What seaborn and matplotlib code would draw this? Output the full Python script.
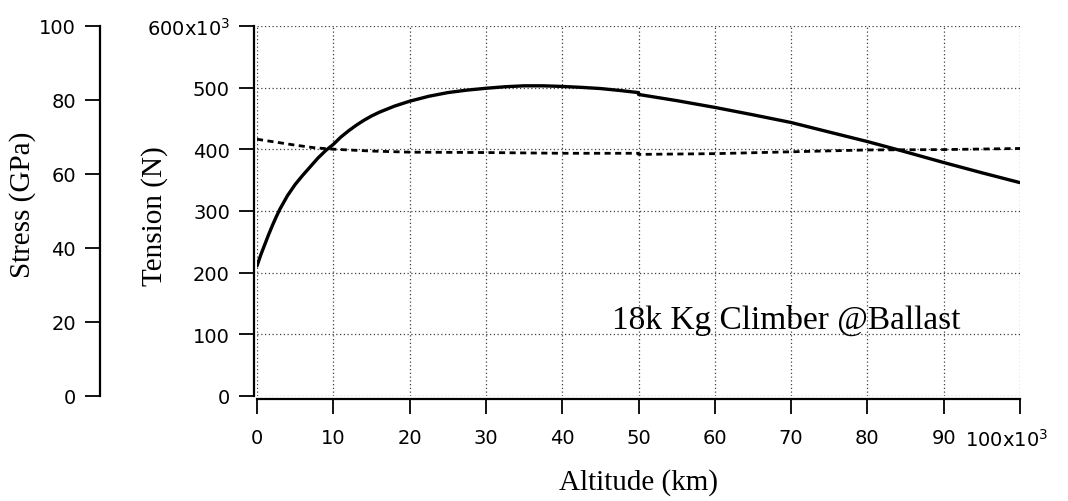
import numpy as np
import pandas as pd
import matplotlib
matplotlib.use("Agg")
import matplotlib.pyplot as plt
import matplotlib.transforms as mtransforms
import seaborn as sns

# ---------------------------------------------------------------------
# data (altitude in km, tension in kN, stress in GPa)
# ---------------------------------------------------------------------
alt_tension = [0, 0.5, 1, 1.5, 2, 2.5, 3, 3.5, 4, 4.5, 5, 6, 7, 8, 9, 10,
               11, 12, 13, 14, 15, 16, 18, 20, 22.5, 25, 27.5, 30, 32.5,
               35, 37.5, 40, 42.5, 45, 47.5, 50, 50, 55, 60, 65, 70, 75,
               80, 84.5, 90, 95, 100]
tension_kN = [211, 229, 245, 261, 276, 290, 303, 314, 325, 334, 343, 358,
              372, 386, 398, 408, 420, 430, 439, 447, 454, 460, 470, 478,
              486, 492, 496, 499, 501.5, 503, 503, 502, 500.5, 498.6,
              495.5, 492, 489, 479, 468, 456, 443.5, 428, 412.6, 397.6,
              378.6, 362, 346]

alt_stress = [0, 2.5, 5, 7.5, 10, 15, 20, 30, 40, 50, 50, 60, 70, 80, 90, 100]
stress_GPa = [69.4, 68.6, 67.8, 67.1, 66.7, 66.2, 65.9, 65.8, 65.6, 65.6,
              65.3, 65.5, 66.0, 66.5, 66.6, 66.9]

x_ticks = [0, 10, 20, 30, 40, 50, 60, 70, 80, 90, 100]
x_ticklabels = ['0', '10', '20', '30', '40', '50', '60', '70', '80', '90',
                '100x10$^3$']
t_ticks = [0, 100, 200, 300, 400, 500, 600]
t_ticklabels = ['0', '100', '200', '300', '400', '500', '600x10$^3$']
s_ticks = [0, 20, 40, 60, 80, 100]

df_t = pd.DataFrame({'alt': alt_tension, 'tension': tension_kN})
df_s = pd.DataFrame({'alt': alt_stress, 'stress': stress_GPa})

sns.set_theme(style="ticks")
plt.rcParams['font.family'] = ['DejaVu Sans']
serif = 'Liberation Serif'

W, H = 1068, 502
PX = 0.72  # points per pixel at dpi 100
fig = plt.figure(figsize=(W / 100, H / 100), dpi=100)
ax = fig.add_axes([257 / W, 1 - 397 / H, (1020 - 257) / W, (397 - 27) / H])
ax.patch.set_alpha(0)

# stress axis on the far left
ax2 = ax.twinx()
ax2.set_zorder(ax.get_zorder() + 1)
ax2.patch.set_alpha(0)

sns.lineplot(data=df_t, x='alt', y='tension', ax=ax, color='black',
             linewidth=2.4, estimator=None, sort=False)
sns.lineplot(data=df_s, x='alt', y='stress', ax=ax2, color='black',
             linewidth=2.0, estimator=None, sort=False)
ax2.lines[0].set_dashes([2.2, 1.6])

ax.set_xlim(0, 100)
ax.set_ylim(0, 600)
ax2.set_ylim(0, 100)

# spines first (set_position resets the ticks)
for s in ['top', 'right']:
    ax.spines[s].set_visible(False)
for s in ['top', 'right', 'bottom']:
    ax2.spines[s].set_visible(False)
ax.spines['left'].set_position(('outward', 3 * PX))
ax.spines['bottom'].set_position(('outward', 3 * PX))
ax2.spines['left'].set_position(('outward', 157 * PX))
for sp in [ax.spines['left'], ax.spines['bottom'], ax2.spines['left']]:
    sp.set_linewidth(1.6)
    sp.set_color('black')

tick_kw = dict(direction='out', length=10.8, width=1.3, color='black',
               labelsize=14, labelcolor='black')
ax.set_xticks(x_ticks)
ax.set_xticklabels(x_ticklabels)
ax.set_yticks(t_ticks)
ax.set_yticklabels(t_ticklabels)
ax.tick_params(axis='x', pad=10, **tick_kw)
ax.tick_params(axis='y', pad=6.5, **tick_kw)

ax2.yaxis.tick_left()
ax2.yaxis.set_label_position('left')
ax2.set_yticks(s_ticks)
ax2.tick_params(axis='y', pad=6.5, left=True, right=False, **tick_kw)

# shift the last x label left, Igor style
lbl = ax.xaxis.get_major_ticks()[-1].label1
lbl.set_transform(lbl.get_transform() +
                  mtransforms.ScaledTranslation(-13 / 100, 0, fig.dpi_scale_trans))

ax.grid(True, linestyle=(0, (1, 2)), color='0.25', linewidth=0.9)
ax2.grid(False)

ax.set_xlabel('Altitude (km)', family=serif, fontsize=21, color='black')
ax.xaxis.set_label_coords(0.5, -0.232)
ax.xaxis.label.set_va('center')
ax.set_ylabel('Tension (N)', family=serif, fontsize=21, color='black')
ax.yaxis.set_label_coords((155 - 257) / 763, 0.49)
ax.yaxis.label.set_va('center')
ax2.set_ylabel('Stress (GPa)', family=serif, fontsize=21, color='black')
ax2.yaxis.set_label_coords((23 - 257) / 763, 0.52)
ax2.yaxis.label.set_va('center')

ax.text(69.3, 125, '18k Kg Climber @Ballast', family=serif, fontsize=24,
        ha='center', va='center', color='black')

fig.savefig('out.png', dpi=100)
